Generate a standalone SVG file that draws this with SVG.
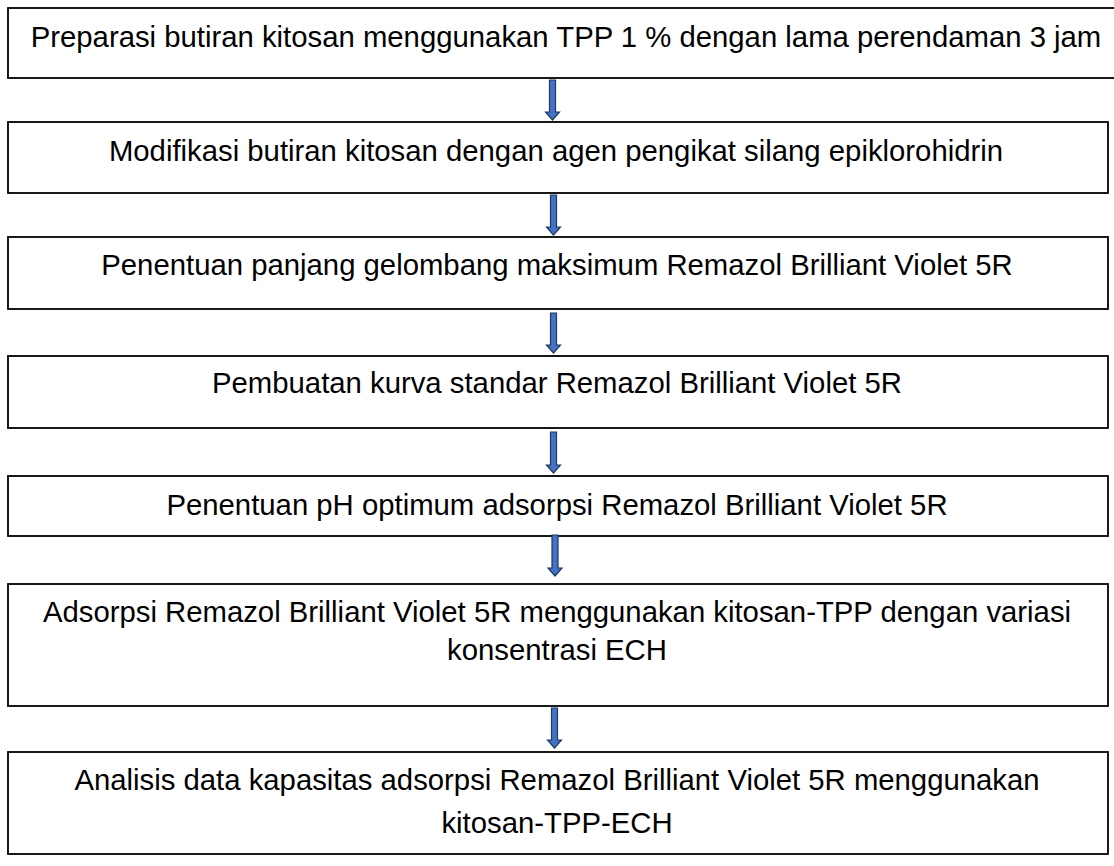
<svg xmlns="http://www.w3.org/2000/svg" width="1114" height="866" viewBox="0 0 1114 866">
  <style>
    .box { fill: #ffffff; stroke: #000000; stroke-width: 1.8; }
    .label { font-family: "Liberation Sans", Arial, sans-serif; font-size: 29.3px; fill: #000000; text-anchor: middle; }
    .arrow { fill: #4472c4; stroke: #1f3864; stroke-width: 1.2; stroke-linejoin: miter; }
  </style>
  <rect width="1114" height="866" fill="#ffffff"/>

  <g id="step1">
    <rect class="box" x="8" y="8" width="1120" height="70"/>
    <text class="label" x="566" y="47">Preparasi butiran kitosan menggunakan TPP 1 % dengan lama perendaman 3 jam</text>
  </g>
  <g id="step2">
    <rect class="box" x="8" y="122" width="1100" height="71"/>
    <text class="label" x="556" y="161">Modifikasi butiran kitosan dengan agen pengikat silang epiklorohidrin</text>
  </g>
  <g id="step3">
    <rect class="box" x="8" y="237" width="1100" height="72"/>
    <text class="label" x="557" y="275">Penentuan panjang gelombang maksimum Remazol Brilliant Violet 5R</text>
  </g>
  <g id="step4">
    <rect class="box" x="8" y="356" width="1100" height="72"/>
    <text class="label" x="557" y="393">Pembuatan kurva standar Remazol Brilliant Violet 5R</text>
  </g>
  <g id="step5">
    <rect class="box" x="8" y="476" width="1100" height="60"/>
    <text class="label" x="557" y="515">Penentuan pH optimum adsorpsi Remazol Brilliant Violet 5R</text>
  </g>
  <g id="step6">
    <rect class="box" x="8" y="584" width="1100" height="122"/>
    <text class="label" x="557" y="622">Adsorpsi Remazol Brilliant Violet 5R menggunakan kitosan-TPP dengan variasi</text>
    <text class="label" x="557" y="660">konsentrasi ECH</text>
  </g>
  <g id="step7">
    <rect class="box" x="8" y="752" width="1100" height="102"/>
    <text class="label" x="557" y="790">Analisis data kapasitas adsorpsi Remazol Brilliant Violet 5R menggunakan</text>
    <text class="label" x="557" y="833">kitosan-TPP-ECH</text>
  </g>

  <g id="connectors">
    <path class="arrow" d="M 549.5 80 L 555.5 80 L 555.5 112 L 559.5 112 L 552.5 120 L 545.5 112 L 549.5 112 Z"/>
    <path class="arrow" d="M 550.5 195 L 556.5 195 L 556.5 227 L 560.5 227 L 553.5 235 L 546.5 227 L 550.5 227 Z"/>
    <path class="arrow" d="M 550.5 313 L 556.5 313 L 556.5 345 L 560.5 345 L 553.5 353 L 546.5 345 L 550.5 345 Z"/>
    <path class="arrow" d="M 550.5 432 L 556.5 432 L 556.5 465 L 560.5 465 L 553.5 473 L 546.5 465 L 550.5 465 Z"/>
    <path class="arrow" d="M 552 535 L 558 535 L 558 568 L 562 568 L 555 576 L 548 568 L 552 568 Z"/>
    <path class="arrow" d="M 551.5 708 L 557.5 708 L 557.5 740 L 561.5 740 L 554.5 748 L 547.5 740 L 551.5 740 Z"/>
  </g>
</svg>
